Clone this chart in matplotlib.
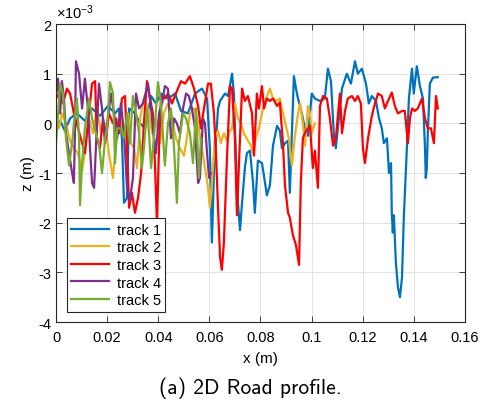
import numpy as np
import matplotlib
matplotlib.use('Agg')
import matplotlib.pyplot as plt
from matplotlib.ticker import FuncFormatter

plt.rcParams['font.family'] = ['Liberation Sans', 'DejaVu Sans']
plt.rcParams['axes.unicode_minus'] = False
plt.rcParams['mathtext.default'] = 'regular'

# x in mm, z in units of 1e-3 m
t1_x = [0.0, 1.6, 3.5, 5.5, 8.2, 11.3, 14.1, 17.2, 20.3, 23.1, 24.6, 25.8, 26.6, 27.8, 28.6,
        30.9, 32.9, 34.8, 37.2, 39.1, 41.1, 43.8, 46.6, 48.9, 51.6, 54.4, 57.1, 59.1, 60.2,
        61.0, 61.8, 63.4, 64.2, 66.1, 67.3, 68.9, 69.6, 70.4, 71.2, 72.0, 72.8, 73.9, 74.7,
        75.9, 77.1, 77.8, 79.0, 80.6, 81.8, 82.5, 83.7, 84.9, 86.5, 87.6, 88.4, 89.6, 90.8,
        91.5, 92.3, 93.1, 93.9, 94.7, 96.2, 97.4, 98.6, 100.1, 101.3, 103.3, 105.2, 106.4,
        107.6, 108.8, 109.5, 110.7, 111.9, 113.8, 115.4, 117.0, 118.1, 119.7, 121.3, 122.4,
        123.6, 125.2, 126.4, 127.5, 128.3, 129.5, 130.3, 131.1, 131.4, 131.8, 132.2, 133.0,
        133.8, 134.6, 135.4, 136.1, 137.3, 138.1, 139.3, 140.0, 141.2, 142.4, 143.6, 144.4,
        144.7, 145.1, 145.5, 146.3, 147.5, 149.4]
t1_z = [-0.1, 0.05, -0.15, 0.1, 0.2, 0.05, 0.3, 0.15, 0.35, 0.2, 0.3, -0.3, -1.6, -1.5, 0.3,
        0.2, 0.0, -0.1, 0.55, 0.4, 0.6, 0.5, 0.6, 0.25, 0.2, 0.6, 0.7, 0.5, -0.5,
        -2.4, -1.0, 0.3, 0.45, 0.6, 0.55, 1.0, 0.6, -0.7, -1.6, -2.15, -1.6, -0.9, -0.6,
        -0.55, -1.2, -1.8, -0.75, -0.8, -1.2, -1.45, -1.25, -0.45, -0.05, -0.15, -0.5, -0.4, -0.35,
        -1.4, -0.2, 0.95, 0.7, 0.5, 0.2, -0.1, -0.25, 0.6, 0.5, 0.45, 0.5, 1.1,
        0.85, -0.3, -0.5, 0.1, 0.7, 1.0, 0.8, 1.25, 1.0, 1.1, 0.8, 0.4,
        0.55, 0.45, 0.1, -0.1, -0.4, -0.3, -1.0, -0.8, -1.8, -2.2, -1.85, -2.8,
        -3.3, -3.5, -3.1, -1.9, -0.5, 0.5, 1.1, 0.6, 1.15, 0.75, 0.5, -0.5,
        -1.1, -0.9, -0.2, 0.8, 0.92, 0.93]

t2_x = [0.0, 1.2, 2.3, 3.9, 5.5, 7.0, 8.6, 10.2, 11.3, 12.9, 14.5, 16.0, 17.6, 19.2, 20.7,
        22.3, 23.5, 25.0, 26.6, 28.2, 29.3, 30.5, 31.7, 32.9, 34.4, 36.0, 37.6, 39.1, 40.7,
        42.2, 43.8, 45.4, 46.9, 48.5, 50.1, 51.2, 52.4, 54.0, 55.6, 57.1, 58.3, 59.5, 60.2,
        61.0, 62.2, 63.4, 64.5, 65.7, 66.9, 68.1, 68.9, 70.0, 71.2, 72.4, 73.5, 75.1, 76.3,
        77.1, 78.2, 79.4, 81.0, 82.2, 83.7, 84.9, 86.5, 87.6, 88.8, 90.0, 91.1, 92.3, 93.5,
        94.7, 95.5, 96.6, 97.4, 98.6, 99.4, 100.1, 101.3]
t2_z = [0.1, -0.1, 0.2, 0.0, -0.35, -0.5, -0.6, -0.95, -0.6, 0.1, -0.2, 0.3, -0.2, 0.0, -0.6,
        -1.1, -0.4, 0.1, -0.2, 0.2, -0.4, -0.5, -0.9, 0.1, 0.5, 0.3, -0.2, 0.1, -0.4,
        0.2, 0.4, 0.1, -0.3, -0.5, -0.65, -0.3, 0.2, 0.3, 0.0, -0.5, -0.9, -1.3, -1.7,
        -1.2, -0.3, -0.15, -0.4, -0.2, -0.35, -0.15, -0.1, 0.4, 0.1, 0.0, -0.2, -0.35, -0.45,
        -0.6, -0.3, -0.1, 0.3, 0.5, 0.7, 0.5, 0.45, 0.5, 0.2, -0.05, -0.3, -0.85, -0.25,
        0.2, 0.4, 0.0, -0.45, 0.35, 0.2, -0.2, 0.0]

t3_x = [0.0, 1.2, 2.7, 4.3, 5.5, 7.0, 8.6, 10.2, 11.3, 12.5, 14.1, 15.3, 16.0, 17.2, 18.4,
        19.6, 20.7, 22.3, 23.5, 24.6, 25.8, 27.0, 27.8, 28.6, 29.7, 30.9, 32.1, 33.3, 34.4,
        35.6, 36.8, 37.9, 38.7, 39.5, 40.3, 41.1, 42.6, 43.8, 45.4, 46.9, 48.9, 50.5, 52.4,
        54.0, 55.6, 56.7, 57.9, 59.5, 60.6, 61.8, 62.6, 63.4, 64.2, 64.9, 65.7, 66.9, 68.1,
        68.9, 70.0, 70.8, 71.6, 72.8, 73.9, 75.1, 76.7, 77.5, 78.6, 79.4, 80.6, 81.4, 82.5,
        83.7, 84.9, 86.5, 87.6, 88.8, 89.6, 90.8, 91.5, 92.7, 93.9, 95.1, 95.8, 96.6, 97.8,
        99.4, 100.5, 101.3, 102.5, 103.3, 104.5, 106.0, 107.2, 108.4, 109.5, 111.1, 111.9,
        113.1, 114.2, 115.8, 117.0, 118.1, 119.3, 120.1, 120.9, 122.1, 123.6, 124.8, 126.0,
        127.5, 128.7, 129.9, 131.4, 132.6, 133.8, 135.4, 136.5, 137.7, 138.5, 139.3, 140.4,
        141.6, 143.2, 144.4, 145.5, 146.7, 147.9, 148.7, 149.4]
t3_z = [0.5, 0.6, 0.4, 0.7, 0.6, 0.2, -0.1, -0.4, -0.6, 0.0, 0.8, 0.85, -0.3, -0.5, 0.1,
        -0.3, 0.2, 0.0, 0.1, -0.2, 0.5, 0.55, -0.5, -1.7, -1.4, -1.8, -1.5, -1.0, 0.0,
        0.85, 0.5, 0.2, -0.8, -2.0, -0.5, 0.55, 0.5, 0.6, 0.4, 0.6, 0.85, 0.8, 0.95,
        0.7, 0.35, -0.1, 0.3, 0.8, 0.8, 0.2, -0.6, -1.7, -2.7, -2.95, -2.4, -0.7, 0.75,
        0.7, -0.3, -1.85, -0.8, 0.7, 0.45, 0.55, 0.2, -0.65, 0.6, 0.3, 0.75, 0.3, 0.5,
        0.45, 0.5, 0.35, 0.42, -0.4, -1.25, -1.8, -1.9, -2.25, -2.45, -2.85, -1.2, -0.3, -0.15,
        -0.05, -0.9, -0.55, -1.3, 0.35, 0.55, 0.5, 0.1, -0.45, -0.3, 0.6, -0.2,
        0.25, 0.5, 0.55, 0.45, 0.55, 0.4, -0.5, -0.8, -0.3, 0.15, 0.4, 0.6,
        0.55, 0.3, 0.45, 0.62, 0.35, 0.2, 0.25, 0.25, -0.4, 0.1, 0.3, 0.25,
        0.3, 0.5, 0.1, -0.1, -0.1, -0.4, 0.55, 0.3]

t4_x = [0.0, 0.8, 1.6, 2.3, 3.1, 3.9, 5.1, 6.3, 7.0, 7.4, 7.8, 9.0, 10.2, 11.3, 12.5, 13.3,
        14.1, 14.9, 15.6, 16.8, 18.0, 19.2, 20.3, 21.5, 22.7, 23.9, 25.4, 26.6, 27.8, 28.9,
        30.1, 31.3, 32.5, 34.0, 36.0, 37.2, 37.9, 39.1, 40.3, 41.5, 42.6, 43.8, 45.0, 46.2,
        47.3, 48.5, 49.7, 50.9, 52.0, 53.2, 54.4, 55.6, 56.3, 57.5, 58.3, 59.1, 59.9, 60.6]
t4_z = [0.6, 0.9, 0.2, 0.85, 0.5, -0.2, -0.6, -1.0, -1.2, -0.2, 1.25, 1.0, 0.3, 0.9, 0.3, -0.5,
        -1.2, -1.3, -0.5, 0.8, 0.3, -0.4, 0.1, 0.6, 0.2, -0.3, 0.4, -0.2, -1.3, -1.55,
        -1.1, 0.6, 0.3, 0.4, 0.8, 0.3, -0.1, -0.6, 0.2, 0.4, 0.75, 0.7, -0.3, 0.1,
        0.0, -0.2, 0.3, 0.6, 0.55, 0.3, -0.1, -1.2, -1.1, 0.1, 0.0, -0.6, -1.1, -1.0]

t5_x = [0.0, 0.8, 1.6, 2.7, 3.9, 5.1, 6.3, 7.0, 8.2, 9.0, 9.4, 10.2, 11.3, 12.9, 14.1, 15.6,
        16.8, 18.0, 19.2, 20.0, 21.1, 22.3, 23.1, 23.9, 25.4, 26.6, 27.8, 28.9, 30.1, 31.3,
        32.5, 33.6, 34.4, 35.6, 36.4, 37.2, 38.3, 39.9, 41.1, 41.9, 42.6, 43.8, 45.0, 46.2,
        47.3, 48.1, 49.7, 50.9, 52.4, 53.6, 54.8, 55.9, 56.7]
t5_z = [-0.4, 0.2, 0.8, 0.6, -0.3, -0.85, -0.4, 0.0, 0.5, -0.3, -1.65, -0.8, -0.1, 0.5, 0.1, -0.2,
        -0.4, -1.0, -0.3, -0.1, 0.83, 0.6, -0.8, -0.1, -0.1, -0.3, 0.2, -0.4, 0.55, 0.2,
        -0.2, -0.9, -0.5, 0.3, -0.2, -0.9, -0.3, 0.83, 0.4, -0.3, -0.85, 0.0, 0.3, -0.5,
        -1.6, -0.4, 0.2, 0.1, -0.2, -0.8, 0.3, -1.1, -0.3]

tracks = [(t1_x, t1_z, 'track 1', '#0072BD'),
          (t2_x, t2_z, 'track 2', '#EDB120'),
          (t3_x, t3_z, 'track 3', '#FF0000'),
          (t4_x, t4_z, 'track 4', '#7E2F8E'),
          (t5_x, t5_z, 'track 5', '#77AC30')]

fig = plt.figure(figsize=(4.85, 4.06), dpi=100)
ax = fig.add_axes([0.1155, 0.2044, 0.843, 0.734])

for tx, tz, name, col in tracks:
    ax.plot(np.array(tx) * 1e-3, np.array(tz) * 1e-3, color=col, lw=1.6, label=name)

ax.set_xlim(0, 0.16)
ax.set_ylim(-4e-3, 2e-3)
ax.set_xticks(np.arange(0, 0.161, 0.02))
ax.set_yticks(np.arange(-4e-3, 2.1e-3, 1e-3))
ax.xaxis.set_major_formatter(FuncFormatter(lambda v, p: '%g' % round(v, 4)))
ax.yaxis.set_major_formatter(FuncFormatter(lambda v, p: '%g' % round(v * 1e3, 4)))
ax.grid(True, color='#e3e3e3', lw=0.8)
ax.set_axisbelow(True)
for s in ax.spines.values():
    s.set_color('#262626')
    s.set_linewidth(0.8)
ax.tick_params(direction='in', top=True, right=True, length=4, width=0.6,
               colors='#262626', labelsize=10.5, labelcolor='black')
ax.tick_params(axis='x', pad=6)
ax.set_xlabel('x (m)', fontsize=11, labelpad=5)
ax.set_ylabel('z (m)', fontsize=11, labelpad=2)

ax.text(0.0, 1.01, r'$\times10^{-3}$', transform=ax.transAxes, fontsize=10.5,
        ha='left', va='bottom')

leg = ax.legend(loc='lower left', bbox_to_anchor=(0.027, 0.035), fontsize=10.5,
                fancybox=False, framealpha=1, edgecolor='#262626', handlelength=2.6,
                labelspacing=0.25, borderpad=0.3, handletextpad=0.5, borderaxespad=0)
leg.get_frame().set_linewidth(0.8)

fig.text(0.517, 0.044, '(a) 2D Road profile.', family=['cmss10', 'DejaVu Sans'],
         fontsize=15.5, ha='center', va='center')

fig.savefig('out.png', dpi=100)
